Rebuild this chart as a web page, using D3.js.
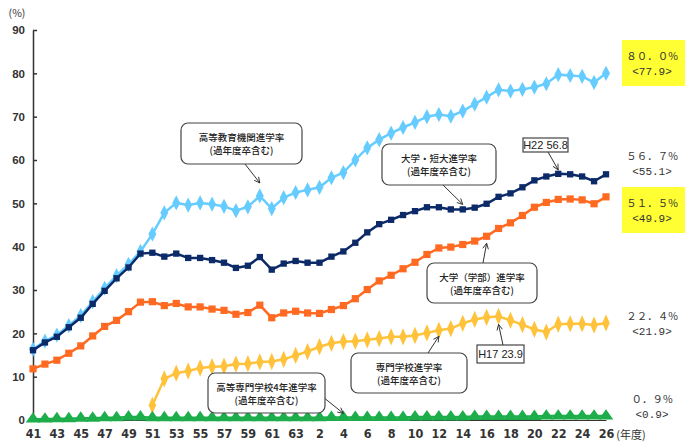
<!DOCTYPE html>
<html lang="ja">
<head>
    <meta charset="UTF-8">
    <title>進学率の推移</title>
    <script src="https://d3js.org/d3.v7.min.js"></script>
    <style>
        body {
            margin: 0;
            padding: 0;
            background-color: #fff;
        }
        .tick text {
            fill: #333;
        }
        .box-text {
            font-family: "Noto Sans CJK JP", sans-serif;
            font-size: 9.5px;
            font-weight: 500;
            fill: #222;
        }
        .side-text {
            font-family: "Noto Sans CJK JP", monospace;
            font-size: 10.5px;
            fill: #333;
        }
        .side-prev {
            font-family: "Liberation Mono", "DejaVu Sans Mono", monospace;
            font-size: 11px;
            fill: #333;
        }
    </style>
</head>
<body>
    <div id="chart"></div>

    <script>
        // Years: Showa 41 .. 63, Heisei 1 .. 26
        const years = [
            "41","42","43","44","45","46","47","48","49","50",
            "51","52","53","54","55","56","57","58","59","60","61","62","63",
            "1","2","3","4","5","6","7","8","9","10","11","12","13",
            "14","15","16","17","18","19","20","21","22","23","24","25","26"
        ];
        const yTicks = [0, 10, 20, 30, 40, 50, 60, 70, 80, 90];

        // 高等教育機関進学率
        const koutouRate = [
            16.3, 18.2, 19.6, 21.8, 24.1, 27.3, 30.4, 33.3, 35.9, 38.9,
            42.9, 47.8, 50.1, 49.6, 50.1, 49.8, 49.3, 48.3, 49.2, 51.7, 48.8, 51.3, 52.5,
            53.1, 53.7, 55.9, 57.1, 60.0, 62.8, 64.7, 66.2, 67.5, 68.7, 70.0, 70.5, 70.1,
            71.3, 72.9, 74.5, 76.2, 75.9, 76.3, 76.8, 77.6, 79.7, 79.5, 79.3, 77.9, 80.0
        ];
        // 大学・短大進学率
        const daigakuTandaiRate = [
            16.1, 17.9, 19.2, 21.4, 23.6, 26.8, 29.8, 32.7, 35.2, 38.4,
            38.6, 37.7, 38.4, 37.4, 37.4, 36.9, 36.3, 35.1, 35.6, 37.6, 34.7, 36.1, 36.7,
            36.3, 36.3, 37.7, 38.9, 40.9, 43.3, 45.2, 46.2, 47.3, 48.2, 49.1, 49.1, 48.6,
            48.6, 49.0, 49.9, 51.5, 52.3, 53.7, 55.3, 56.2, 56.8, 56.7, 56.2, 55.1, 56.7
        ];
        // 大学（学部）進学率
        const gakubuRate = [
            11.8, 12.9, 13.8, 15.4, 17.1, 19.4, 21.6, 23.0, 25.0, 27.2,
            27.3, 26.4, 26.9, 26.1, 26.1, 25.6, 25.3, 24.4, 24.8, 26.5, 23.6, 24.7, 25.1,
            24.7, 24.6, 25.5, 26.4, 28.0, 30.1, 32.1, 33.4, 34.9, 36.4, 38.2, 39.7, 39.9,
            40.5, 41.3, 42.4, 44.2, 45.5, 47.2, 49.1, 50.2, 50.9, 51.0, 50.8, 49.9, 51.5
        ];
        // 専門学校進学率 (from S51)
        const senmonRate = [
            null, null, null, null, null, null, null, null, null, null,
            3.4, 9.5, 10.8, 11.3, 12.0, 12.3, 12.4, 12.9, 13.0, 13.4, 13.5, 14.0, 14.9,
            15.8, 16.9, 17.7, 18.1, 18.2, 18.5, 18.8, 19.2, 19.2, 19.5, 20.1, 20.7, 21.1,
            22.3, 23.2, 23.7, 23.9, 23.0, 22.0, 20.9, 20.3, 22.1, 22.2, 22.2, 21.9, 22.4
        ];
        // 高等専門学校4年進学率
        const kousenRate = [
            0.2, 0.2, 0.3, 0.3, 0.4, 0.4, 0.5, 0.5, 0.7, 0.7,
            0.5, 0.5, 0.5, 0.5, 0.5, 0.5, 0.5, 0.5, 0.5, 0.5, 0.5, 0.5, 0.5,
            0.5, 0.5, 0.6, 0.6, 0.6, 0.6, 0.6, 0.6, 0.6, 0.7, 0.7, 0.7, 0.7,
            0.7, 0.8, 0.8, 0.8, 0.8, 0.8, 0.8, 0.9, 0.9, 0.9, 0.9, 0.9, 0.9
        ];

        const width = 685, height = 442;

        const svg = d3.select("#chart").append("svg")
            .attr("width", width)
            .attr("height", height);

        const x = d3.scaleLinear().domain([0, years.length - 1]).range([33, 606]);
        const y = d3.scaleLinear().domain([0, 90]).range([420, 30]);

        // y axis
        const yAxis = svg.append("g")
            .attr("transform", "translate(33,0)")
            .call(d3.axisLeft(y).tickValues(yTicks).tickSize(-4).tickSizeOuter(0).tickPadding(8));
        yAxis.selectAll("text")
            .style("font-family", "'Liberation Sans', Arial, sans-serif")
            .style("font-size", "11.5px")
            .style("font-weight", "bold");
        yAxis.selectAll("path, line").attr("stroke", "#333").attr("stroke-width", 1.5);

        // x axis
        const xAxis = svg.append("g")
            .attr("transform", "translate(0,420)")
            .call(d3.axisBottom(x)
                .tickValues(d3.range(0, years.length, 2))
                .tickFormat(i => years[i])
                .tickSize(0).tickPadding(9));
        xAxis.select(".domain").attr("stroke", "#333").attr("stroke-width", 1.2);
        xAxis.selectAll("text")
            .style("font-family", "'Liberation Sans Narrow', 'Arial Narrow', 'DejaVu Sans Condensed', sans-serif")
            .style("font-stretch", "condensed")
            .style("font-size", "12.5px")
            .style("font-weight", "bold");

        svg.append("text")
            .attr("x", 17).attr("y", 17)
            .attr("text-anchor", "middle")
            .style("font-family", "'Noto Sans CJK JP', sans-serif")
            .style("font-size", "10.5px")
            .attr("fill", "#333")
            .text("(%)");

        svg.append("text")
            .attr("x", 631).attr("y", 439)
            .attr("text-anchor", "middle")
            .style("font-family", "'Noto Sans CJK JP', sans-serif")
            .style("font-size", "11px")
            .attr("fill", "#333")
            .text("(年度)");

        const series = [
            { values: koutouRate, color: "#66CCFF", symbol: d3.symbolDiamond, size: 55, sx: 1, sy: 1.1 },
            { values: daigakuTandaiRate, color: "#0C2A68", symbol: d3.symbolSquare, size: 40, sx: 1, sy: 1 },
            { values: gakubuRate, color: "#FF6A22", symbol: d3.symbolSquare, size: 52, sx: 1, sy: 1 },
            { values: senmonRate, color: "#FFC23A", symbol: d3.symbolDiamond, size: 60, sx: 0.9, sy: 1.2 },
            { values: kousenRate, color: "#1DAE4B", symbol: d3.symbolTriangle, size: 70, sx: 1.15, sy: 0.95 }
        ];

        const line = d3.line()
            .defined(d => d !== null)
            .x((d, i) => x(i))
            .y(d => y(d));

        series.forEach(s => {
            svg.append("path")
                .datum(s.values)
                .attr("d", line)
                .attr("fill", "none")
                .attr("stroke", s.color)
                .attr("stroke-width", 2.5);

            svg.append("g").selectAll("path")
                .data(s.values.map((v, i) => ({ v, i })).filter(d => d.v !== null))
                .join("path")
                .attr("d", d3.symbol().type(s.symbol).size(s.size))
                .attr("transform", d => `translate(${x(d.i)},${y(d.v)}) scale(${s.sx},${s.sy})`)
                .attr("fill", s.color);
        });

        // arrow head
        svg.append("defs").append("marker")
            .attr("id", "arrow")
            .attr("viewBox", "0 0 10 10")
            .attr("refX", 9).attr("refY", 5)
            .attr("markerWidth", 7).attr("markerHeight", 7)
            .attr("orient", "auto")
            .append("path")
            .attr("d", "M1,1 L9,5 L1,9")
            .attr("fill", "none")
            .attr("stroke", "#333")
            .attr("stroke-width", 1.3);

        // callout boxes: box in px, arrow tip anchored to a data point
        const callouts = [
            { lines: ["高等教育機関進学率", "(過年度卒含む)"], box: [181, 123, 121, 41], rx: 7,
              from: [245, 164], idx: 19, values: koutouRate, dy: -13 },
            { lines: ["大学・短大進学率", "(過年度卒含む)"], box: [382, 144, 114, 41], rx: 7,
              from: [443, 185], idx: 36, values: daigakuTandaiRate, dy: -5 },
            { lines: ["大学（学部）進学率", "(過年度卒含む)"], box: [427, 263, 110, 40], rx: 7,
              from: [483, 263], idx: 38, values: gakubuRate, dy: 7 },
            { lines: ["専門学校進学率", "(過年度卒含む)"], box: [351, 353, 116, 40], rx: 7,
              from: [428, 353], idx: 34, values: senmonRate, dy: 6 },
            { lines: ["高等専門学校4年進学率", "(過年度卒含む)"], box: [208, 373, 117, 40], rx: 7,
              from: [323, 397], idx: 26, values: kousenRate, dy: -4 },
            { lines: ["H22 56.8"], box: [523, 138, 45, 14], rx: 0,
              from: [548, 152], idx: 44, values: daigakuTandaiRate, dy: -4 },
            { lines: ["H17 23.9"], box: [477, 345, 47, 18], rx: 0,
              from: [503, 345], idx: 39, values: senmonRate, dy: 8 }
        ];

        callouts.forEach(c => {
            svg.append("line")
                .attr("x1", c.from[0]).attr("y1", c.from[1])
                .attr("x2", x(c.idx)).attr("y2", y(c.values[c.idx]) + c.dy)
                .attr("stroke", "#333")
                .attr("stroke-width", 1)
                .attr("marker-end", "url(#arrow)");

            svg.append("rect")
                .attr("x", c.box[0]).attr("y", c.box[1])
                .attr("width", c.box[2]).attr("height", c.box[3])
                .attr("rx", c.rx)
                .attr("fill", "#fff")
                .attr("stroke", "#444")
                .attr("stroke-width", 1.2);

            const cx = c.box[0] + c.box[2] / 2;
            if (c.lines.length === 2) {
                c.lines.forEach((t, k) => {
                    svg.append("text")
                        .attr("class", "box-text")
                        .attr("x", cx)
                        .attr("y", c.box[1] + 18 + k * 13)
                        .attr("text-anchor", "middle")
                        .text(t);
                });
            } else {
                svg.append("text")
                    .attr("x", cx)
                    .attr("y", c.box[1] + c.box[3] / 2 + 4)
                    .attr("text-anchor", "middle")
                    .style("font-family", "'Liberation Sans', Arial, sans-serif")
                    .style("font-size", "11px")
                    .attr("fill", "#222")
                    .text(c.lines[0]);
            }
        });

        // latest values at right
        const sideLabels = [
            { main: "８０．０%", prev: "<77.9>", cy: 63, highlight: true },
            { main: "５６．７%", prev: "<55.1>", cy: 163, highlight: false },
            { main: "５１．５%", prev: "<49.9>", cy: 210, highlight: true },
            { main: "２２．４%", prev: "<21.9>", cy: 323, highlight: false },
            { main: "０．９%", prev: "<0.9>", cy: 406, highlight: false }
        ];

        sideLabels.forEach(s => {
            if (s.highlight) {
                svg.append("rect")
                    .attr("x", 622).attr("y", s.cy - 23)
                    .attr("width", 63).attr("height", 46)
                    .attr("fill", "#FFFF33");
            }
            svg.append("text")
                .attr("class", "side-text")
                .attr("x", 652).attr("y", s.cy - 3)
                .attr("text-anchor", "middle")
                .text(s.main);
            svg.append("text")
                .attr("class", "side-prev")
                .attr("x", 652).attr("y", s.cy + 12)
                .attr("text-anchor", "middle")
                .text(s.prev);
        });
    </script>
</body>
</html>
